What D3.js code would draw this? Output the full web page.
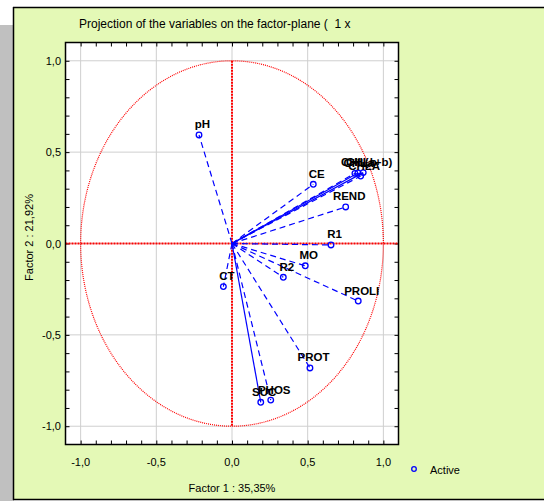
<!DOCTYPE html>
<html>
<head>
    <script src="https://d3js.org/d3.v7.min.js"></script>
    <style>
        body { margin: 0; background: #fff; }
        text { font-family: "Liberation Sans", Arial, sans-serif; }
    </style>
</head>
<body>
    <svg width="544" height="501"></svg>

    <script>
        // Variables projected on factor plane (factor 1, factor 2)
        const names = ["pH", "CE", "CHLa", "CHLb", "CHLA", "CHL(a+b)", "REND", "R1", "MO", "R2", "PROLI", "CT", "PROT", "PHOS", "SUC"];
        const f1 = [-0.218, 0.537, 0.812, 0.832, 0.850, 0.867, 0.751, 0.654, 0.484, 0.339, 0.834, -0.057, 0.515, 0.256, 0.190];
        const f2 = [0.594, 0.324, 0.384, 0.386, 0.369, 0.388, 0.200, -0.008, -0.122, -0.185, -0.315, -0.236, -0.681, -0.857, -0.869];
        const dashed = [true, true, true, false, true, false, true, true, true, true, true, true, true, true, false];

        const tickVals = [-1.0, -0.5, 0.0, 0.5, 1.0];
        const titleText = "Projection of the variables on the factor-plane (  1 x";
        const xTitle = "Factor 1 : 35,35%";
        const yTitle = "Factor 2 : 21,92%";
        const legendLabel = "Active";

        const data = names.map((n, i) => ({ name: n, x: f1[i], y: f2[i], dashed: dashed[i] }));

        const svg = d3.select("svg");
        const fmt = d => d3.format(".1f")(d).replace(".", ",").replace("−", "-");

        // panel background
        svg.append("rect").attr("x", 0).attr("y", 25).attr("width", 14).attr("height", 476).attr("fill", "#c0c0c0");
        svg.append("rect").attr("x", 14).attr("y", 8).attr("width", 530).attr("height", 491).attr("fill", "#e4f9b6");
        svg.append("line").attr("x1", 13.5).attr("x2", 13.5).attr("y1", 7).attr("y2", 500).attr("stroke", "#000").attr("stroke-width", 1.5);
        svg.append("line").attr("x1", 13).attr("x2", 544).attr("y1", 7.5).attr("y2", 7.5).attr("stroke", "#000").attr("stroke-width", 1.5);
        svg.append("line").attr("x1", 13).attr("x2", 544).attr("y1", 499.5).attr("y2", 499.5).attr("stroke", "#000").attr("stroke-width", 1.5);

        const x = d3.scaleLinear().domain([-1.1, 1.1]).range([65.5, 398.5]);
        const y = d3.scaleLinear().domain([-1.1, 1.1]).range([444.5, 42.5]);

        // plot area
        svg.append("rect")
            .attr("x", x(-1.1)).attr("y", y(1.1))
            .attr("width", x(1.1) - x(-1.1)).attr("height", y(-1.1) - y(1.1))
            .attr("fill", "#fff");

        // grid
        svg.append("g").selectAll("line").data(tickVals).join("line")
            .attr("x1", d => x(d)).attr("x2", d => x(d))
            .attr("y1", y(1.1)).attr("y2", y(-1.1))
            .attr("stroke", "#cfcfcf").attr("stroke-width", 1);
        svg.append("g").selectAll("line").data(tickVals).join("line")
            .attr("y1", d => y(d)).attr("y2", d => y(d))
            .attr("x1", x(-1.1)).attr("x2", x(1.1))
            .attr("stroke", "#cfcfcf").attr("stroke-width", 1);

        // axes (ticks inside the frame)
        const minor = d3.range(-10, 11).map(d => d / 10);
        const axB = d3.axisBottom(x).tickValues(minor).tickSize(-4).tickFormat("");
        const axT = d3.axisTop(x).tickValues(minor).tickSize(-4).tickFormat("");
        const axL = d3.axisLeft(y).tickValues(minor).tickSize(-4).tickFormat("");
        const axR = d3.axisRight(y).tickValues(minor).tickSize(-4).tickFormat("");
        [[axB, `translate(0,${y(-1.1)})`], [axT, `translate(0,${y(1.1)})`],
         [axL, `translate(${x(-1.1)},0)`], [axR, `translate(${x(1.1)},0)`]].forEach(([ax, tr]) => {
            const g = svg.append("g").attr("transform", tr).call(ax);
            g.select(".domain").remove();
            g.selectAll("line").attr("stroke", "#000");
        });

        // tick labels
        svg.append("g").selectAll("text").data(tickVals).join("text")
            .attr("x", d => x(d)).attr("y", 466)
            .attr("text-anchor", "middle").attr("font-size", "11px").attr("fill", "#000")
            .text(fmt);
        svg.append("g").selectAll("text").data(tickVals).join("text")
            .attr("x", 61).attr("y", d => y(d) + 4)
            .attr("text-anchor", "end").attr("font-size", "11px").attr("fill", "#000")
            .text(fmt);

        // red unit circle and axes through origin
        svg.append("ellipse")
            .attr("cx", x(0)).attr("cy", y(0))
            .attr("rx", x(1) - x(0)).attr("ry", y(0) - y(1))
            .attr("fill", "none").attr("stroke", "#ff0000").attr("stroke-width", 1.2)
            .attr("stroke-dasharray", "1,1");
        svg.append("line")
            .attr("x1", x(-1.1)).attr("x2", x(1.1)).attr("y1", y(0)).attr("y2", y(0))
            .attr("stroke", "#ff0000").attr("stroke-width", 2).attr("stroke-dasharray", "2,1");
        svg.append("line")
            .attr("x1", x(0)).attr("x2", x(0)).attr("y1", y(1)).attr("y2", y(-1))
            .attr("stroke", "#ff0000").attr("stroke-width", 2).attr("stroke-dasharray", "2,1");

        // frame
        svg.append("rect")
            .attr("x", x(-1.1)).attr("y", y(1.1))
            .attr("width", x(1.1) - x(-1.1)).attr("height", y(-1.1) - y(1.1))
            .attr("fill", "none").attr("stroke", "#000").attr("stroke-width", 1.5);

        // vectors
        svg.append("g").selectAll("line").data(data).join("line")
            .attr("x1", x(0)).attr("y1", y(0))
            .attr("x2", d => x(d.x)).attr("y2", d => y(d.y))
            .attr("stroke", "#0000ff").attr("stroke-width", 1.2)
            .attr("stroke-dasharray", d => d.dashed ? "6,4" : null);

        svg.append("g").selectAll("circle").data(data).join("circle")
            .attr("cx", d => x(d.x)).attr("cy", d => y(d.y)).attr("r", 2.8)
            .attr("fill", "none").attr("stroke", "#0000ff").attr("stroke-width", 1.3);

        svg.append("g").selectAll("text").data(data).join("text")
            .attr("x", d => x(d.x) + 3.5).attr("y", d => y(d.y) - 6.5)
            .attr("text-anchor", "middle").attr("font-size", "11.5px").attr("font-weight", "bold")
            .attr("fill", "#000")
            .text(d => d.name);

        // titles
        svg.append("text").attr("x", 79).attr("y", 28)
            .attr("font-size", "12px").attr("fill", "#000")
            .style("white-space", "pre").attr("xml:space", "preserve")
            .text(titleText);
        svg.append("text").attr("x", x(0)).attr("y", 492)
            .attr("text-anchor", "middle").attr("font-size", "11px").attr("fill", "#000").text(xTitle);
        svg.append("text").attr("transform", `translate(33,${y(0) - 6}) rotate(-90)`)
            .attr("text-anchor", "middle").attr("font-size", "11px").attr("fill", "#000").text(yTitle);

        // legend
        svg.append("circle").attr("cx", 414).attr("cy", 469).attr("r", 2.3)
            .attr("fill", "none").attr("stroke", "#0000ff").attr("stroke-width", 1.3);
        svg.append("text").attr("x", 430).attr("y", 474)
            .attr("font-size", "11px").attr("fill", "#000").text(legendLabel);
    </script>
</body>
</html>
